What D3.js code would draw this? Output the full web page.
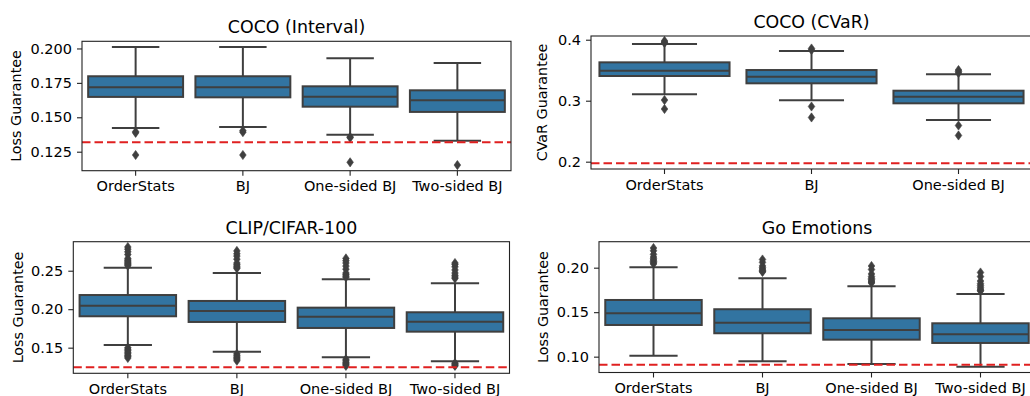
<!DOCTYPE html>
<html>
<head>
<meta charset="utf-8">
<script src="https://cdn.jsdelivr.net/npm/d3@7"></script>
<style>
html,body{margin:0;padding:0;background:#fff;overflow:hidden;}
svg{display:block;}
text{font-family:"DejaVu Sans",sans-serif;fill:#000;}
</style>
</head>
<body>
<div id="chart"></div>
<script>
// ---------- data ----------
const cats4 = ["OrderStats", "BJ", "One-sided BJ", "Two-sided BJ"];
const cats3 = ["OrderStats", "BJ", "One-sided BJ"];

// Panel 1: COCO (Interval)
const p1Title = "COCO (Interval)";
const p1YLabel = "Loss Guarantee";
const p1Ticks = [0.125, 0.150, 0.175, 0.200];
const p1WhiskerHigh = [0.2011, 0.2011, 0.1929, 0.1895];
const p1Q3 = [0.1798, 0.1798, 0.1725, 0.1696];
const p1Median = [0.1718, 0.1718, 0.1650, 0.1624];
const p1Q1 = [0.1648, 0.1645, 0.1577, 0.1539];
const p1WhiskerLow = [0.1422, 0.1430, 0.1374, 0.1330];
const p1Outliers = [[0.1395, 0.1387, 0.1226], [0.1403, 0.1392, 0.1226], [0.1357, 0.1352, 0.1173], [0.1153]];
const p1Ref = 0.1318;

// Panel 2: COCO (CVaR)
const p2Title = "COCO (CVaR)";
const p2YLabel = "CVaR Guarantee";
const p2Ticks = [0.2, 0.3, 0.4];
const p2WhiskerHigh = [0.3930, 0.3815, 0.3433];
const p2Q3 = [0.3629, 0.3503, 0.3164];
const p2Median = [0.3492, 0.3393, 0.3066];
const p2Q1 = [0.3405, 0.3285, 0.2957];
const p2WhiskerLow = [0.3105, 0.3007, 0.2684];
const p2Outliers = [[0.3980, 0.3960, 0.3946, 0.3010, 0.2864], [0.3856, 0.3831, 0.2905, 0.2725], [0.3503, 0.3480, 0.3454, 0.2593, 0.2430]];
const p2Ref = 0.1974;

// Panel 3: CLIP/CIFAR-100
const p3Title = "CLIP/CIFAR-100";
const p3YLabel = "Loss Guarantee";
const p3Ticks = [0.15, 0.20, 0.25];
const p3WhiskerHigh = [0.2539, 0.2470, 0.2388, 0.2336];
const p3Q3 = [0.2184, 0.2107, 0.2020, 0.1960];
const p3Median = [0.2045, 0.1977, 0.1903, 0.1838];
const p3Q1 = [0.1908, 0.1834, 0.1756, 0.1708];
const p3WhiskerLow = [0.1535, 0.1448, 0.1375, 0.1323];
const p3Outliers = [
  [0.2808, 0.2780, 0.2745, 0.2710, 0.2660, 0.2640, 0.2625, 0.2610, 0.2595, 0.2580, 0.2565, 0.1500, 0.1480, 0.1460, 0.1440, 0.1420, 0.1400, 0.1385, 0.1366],
  [0.2757, 0.2720, 0.2690, 0.2650, 0.2600, 0.2580, 0.2560, 0.2545, 0.2530, 0.1420, 0.1400, 0.1380, 0.1365, 0.1350, 0.1330],
  [0.2660, 0.2630, 0.2600, 0.2560, 0.2520, 0.2470, 0.2450, 0.2430, 0.2415, 0.1350, 0.1330, 0.1310, 0.1295, 0.1280, 0.1263],
  [0.2600, 0.2581, 0.2550, 0.2510, 0.2470, 0.2440, 0.2418, 0.2400, 0.1300, 0.1288, 0.1275, 0.1263]
];
const p3Ref = 0.1245;

// Panel 4: Go Emotions
const p4Title = "Go Emotions";
const p4YLabel = "Loss Guarantee";
const p4Ticks = [0.10, 0.15, 0.20];
const p4WhiskerHigh = [0.2004, 0.1881, 0.1791, 0.1704];
const p4Q3 = [0.1637, 0.1533, 0.1431, 0.1375];
const p4Median = [0.1488, 0.1382, 0.1300, 0.1252];
const p4Q1 = [0.1356, 0.1263, 0.1191, 0.1154];
const p4WhiskerLow = [0.1011, 0.0948, 0.0918, 0.0888];
const p4Outliers = [
  [0.2221, 0.2190, 0.2150, 0.2120, 0.2100, 0.2085, 0.2070, 0.2055, 0.2042],
  [0.2092, 0.2060, 0.2020, 0.2000, 0.1985, 0.1970, 0.1960, 0.1952],
  [0.2019, 0.1980, 0.1930, 0.1900, 0.1880, 0.1865, 0.1850, 0.1838, 0.1828],
  [0.1946, 0.1900, 0.1850, 0.1820, 0.1800, 0.1780, 0.1760, 0.1745, 0.1738]
];
const p4Ref = 0.0910;

// ---------- layout ----------
const panels = [
  {title:p1Title, ylab:p1YLabel, cats:cats4, ticks:p1Ticks, fmt:".3f", wh:p1WhiskerHigh, q3:p1Q3, med:p1Median, q1:p1Q1, wl:p1WhiskerLow, out:p1Outliers, ref:p1Ref,
   box:{l:82, r:511, t:41.3, b:170.7}, dom:[0.1112, 0.2052], labX:21},
  {title:p2Title, ylab:p2YLabel, cats:cats3, ticks:p2Ticks, fmt:".1f", wh:p2WhiskerHigh, q3:p2Q3, med:p2Median, q1:p2Q1, wl:p2WhiskerLow, out:p2Outliers, ref:p2Ref,
   box:{l:591, r:1032, t:36, b:169}, dom:[0.188, 0.4061], labX:547},
  {title:p3Title, ylab:p3YLabel, cats:cats4, ticks:p3Ticks, fmt:".2f", wh:p3WhiskerHigh, q3:p3Q3, med:p3Median, q1:p3Q1, wl:p3WhiskerLow, out:p3Outliers, ref:p3Ref,
   box:{l:73.3, r:509.5, t:241.7, b:373.3}, dom:[0.1167, 0.2877], labX:23},
  {title:p4Title, ylab:p4YLabel, cats:cats4, ticks:p4Ticks, fmt:".2f", wh:p4WhiskerHigh, q3:p4Q3, med:p4Median, q1:p4Q1, wl:p4WhiskerLow, out:p4Outliers, ref:p4Ref,
   box:{l:599, r:1035, t:241.7, b:372.5}, dom:[0.0822, 0.2292], labX:547.5}
];

const W = 1040, H = 396;
const svg = d3.select("#chart").append("svg").attr("width", W).attr("height", H);

const boxFill = "#3274a1", edge = "#3f3f3f";

panels.forEach(p => {
  const b = p.box;
  const x = d3.scaleBand().domain(p.cats).range([b.l, b.r]).paddingInner(0).paddingOuter(0);
  const y = d3.scaleLinear().domain(p.dom).range([b.b, b.t]);
  const g = svg.append("g");
  const bw = x.bandwidth() * 0.885;

  p.cats.forEach((c, i) => {
    const cx = x(c) + x.bandwidth() / 2;
    const gg = g.append("g");
    gg.append("line").attr("x1", cx).attr("x2", cx).attr("y1", y(p.q3[i])).attr("y2", y(p.wh[i]))
      .attr("stroke", edge).attr("stroke-width", 2);
    gg.append("line").attr("x1", cx).attr("x2", cx).attr("y1", y(p.q1[i])).attr("y2", y(p.wl[i]))
      .attr("stroke", edge).attr("stroke-width", 2);
    [p.wh[i], p.wl[i]].forEach(v => {
      gg.append("line").attr("x1", cx - bw / 4).attr("x2", cx + bw / 4).attr("y1", y(v)).attr("y2", y(v))
        .attr("stroke", edge).attr("stroke-width", 2);
    });
    gg.append("rect").attr("x", cx - bw / 2).attr("width", bw)
      .attr("y", y(p.q3[i])).attr("height", y(p.q1[i]) - y(p.q3[i]))
      .attr("fill", boxFill).attr("stroke", edge).attr("stroke-width", 2);
    gg.append("line").attr("x1", cx - bw / 2).attr("x2", cx + bw / 2).attr("y1", y(p.med[i])).attr("y2", y(p.med[i]))
      .attr("stroke", edge).attr("stroke-width", 2);
    gg.selectAll("path.fl").data(p.out[i]).enter().append("path")
      .attr("class", "fl")
      .attr("d", "M0,-4.6L3.3,0L0,4.6L-3.3,0Z")
      .attr("transform", v => `translate(${cx},${y(v)})`)
      .attr("fill", edge).attr("stroke", edge).attr("stroke-width", 0.6);
  });

  g.append("line").attr("x1", b.l).attr("x2", b.r).attr("y1", y(p.ref)).attr("y2", y(p.ref))
    .attr("stroke", "#e02020").attr("stroke-width", 2).attr("stroke-dasharray", "8.5,4");

  g.append("rect").attr("x", b.l).attr("y", b.t).attr("width", b.r - b.l).attr("height", b.b - b.t)
    .attr("fill", "none").attr("stroke", "#222").attr("stroke-width", 1.1);

  const yAxis = d3.axisLeft(y).tickValues(p.ticks).tickFormat(d3.format(p.fmt)).tickSize(5).tickPadding(5);
  const ya = svg.append("g").attr("transform", `translate(${b.l},0)`).call(yAxis);
  ya.select(".domain").remove();
  ya.selectAll("line").attr("stroke", "#222").attr("stroke-width", 1.1);
  ya.selectAll("text").style("font-size", "14.5px").style("font-family", "DejaVu Sans").attr("fill", "#000");

  const xAxis = d3.axisBottom(x).tickSize(5).tickPadding(5.5);
  const xa = svg.append("g").attr("transform", `translate(0,${b.b})`).call(xAxis);
  xa.select(".domain").remove();
  xa.selectAll("line").attr("stroke", "#222").attr("stroke-width", 1.1);
  xa.selectAll("text").style("font-size", "14.5px").style("font-family", "DejaVu Sans").attr("fill", "#000");

  svg.append("text").attr("x", (b.l + b.r) / 2).attr("y", b.t - 8)
    .attr("text-anchor", "middle").style("font-size", "17.4px").text(p.title);

  svg.append("text").attr("transform", `translate(${p.labX},${(b.t + b.b) / 2}) rotate(-90)`)
    .attr("text-anchor", "middle").style("font-size", "14.3px").text(p.ylab);
});
</script>
</body>
</html>
